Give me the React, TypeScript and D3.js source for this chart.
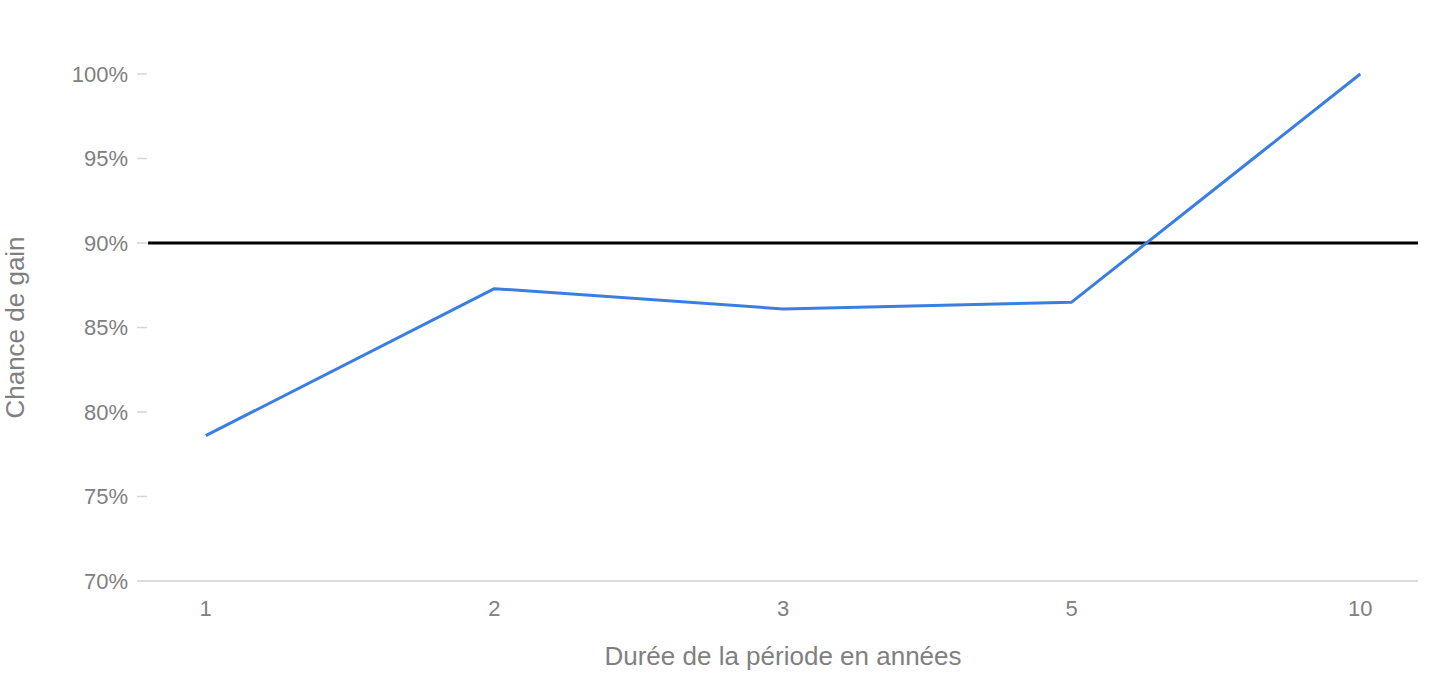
import React, { useEffect, useRef } from "react";
import * as d3 from "d3";

// periods (years) and chance of gain (%)
const periods: string[] = ["1", "2", "3", "5", "10"];
const chanceDeGain: number[] = [78.6, 87.3, 86.1, 86.5, 100];
const yTicks: number[] = [70, 75, 80, 85, 90, 95, 100];
const seuil: number = 90;

const width = 1456;
const height = 695;
const margin = { top: 74, right: 38, bottom: 114, left: 148 };

const App: React.FC = () => {
  const svgRef = useRef<SVGSVGElement>(null);

  useEffect(() => {
    const svg = d3.select(svgRef.current);
    svg.selectAll("*").remove();

    const font = "'Liberation Sans', Arial, sans-serif";
    const gray = "#808080";

    const x = d3
      .scalePoint<string>()
      .domain(periods)
      .range([margin.left, width - margin.right])
      .padding(0.2);

    const y = d3
      .scaleLinear()
      .domain([70, 100])
      .range([height - margin.bottom, margin.top]);

    // y ticks + labels
    const yAxis = svg.append("g");
    yAxis
      .selectAll("line")
      .data(yTicks.filter((t) => t !== 70))
      .join("line")
      .attr("x1", margin.left - 11)
      .attr("x2", margin.left - 1)
      .attr("y1", (d) => y(d))
      .attr("y2", (d) => y(d))
      .attr("stroke", "#d6d6d6")
      .attr("stroke-width", 1.5);
    yAxis
      .selectAll("text")
      .data(yTicks)
      .join("text")
      .attr("x", margin.left - 20)
      .attr("y", (d) => y(d))
      .attr("dy", "0.36em")
      .attr("text-anchor", "end")
      .attr("font-family", font)
      .attr("font-size", 22)
      .attr("fill", gray)
      .text((d) => `${d}%`);

    // baseline
    svg
      .append("line")
      .attr("x1", margin.left - 11)
      .attr("x2", width - margin.right)
      .attr("y1", y(70))
      .attr("y2", y(70))
      .attr("stroke", "#cfcfcf")
      .attr("stroke-width", 1.5);

    // x labels
    svg
      .append("g")
      .selectAll("text")
      .data(periods)
      .join("text")
      .attr("x", (d) => x(d) as number)
      .attr("y", y(70) + 27)
      .attr("dy", "0.36em")
      .attr("text-anchor", "middle")
      .attr("font-family", font)
      .attr("font-size", 22)
      .attr("fill", gray)
      .text((d) => d);

    // threshold line
    svg
      .append("line")
      .attr("x1", margin.left)
      .attr("x2", width - margin.right)
      .attr("y1", y(seuil))
      .attr("y2", y(seuil))
      .attr("stroke", "#000")
      .attr("stroke-width", 3);

    // data line
    const line = d3
      .line<number>()
      .x((_, i) => x(periods[i]) as number)
      .y((d) => y(d));
    svg
      .append("path")
      .datum(chanceDeGain)
      .attr("d", line)
      .attr("fill", "none")
      .attr("stroke", "#3a7ee2")
      .attr("stroke-width", 3)
      .attr("stroke-linejoin", "round");

    // axis titles
    svg
      .append("text")
      .attr("x", (margin.left + width - margin.right) / 2)
      .attr("y", 656)
      .attr("dy", "0.36em")
      .attr("text-anchor", "middle")
      .attr("font-family", font)
      .attr("font-size", 26)
      .attr("fill", gray)
      .text("Durée de la période en années");

    svg
      .append("text")
      .attr("transform", `translate(24,${y(85)}) rotate(-90)`)
      .attr("text-anchor", "middle")
      .attr("font-family", font)
      .attr("font-size", 26)
      .attr("fill", gray)
      .text("Chance de gain");
  }, []);

  return (
    <svg
      ref={svgRef}
      width={width}
      height={height}
      style={{ position: "absolute", left: 0, top: 0, background: "#fff" }}
    />
  );
};

export default App;
